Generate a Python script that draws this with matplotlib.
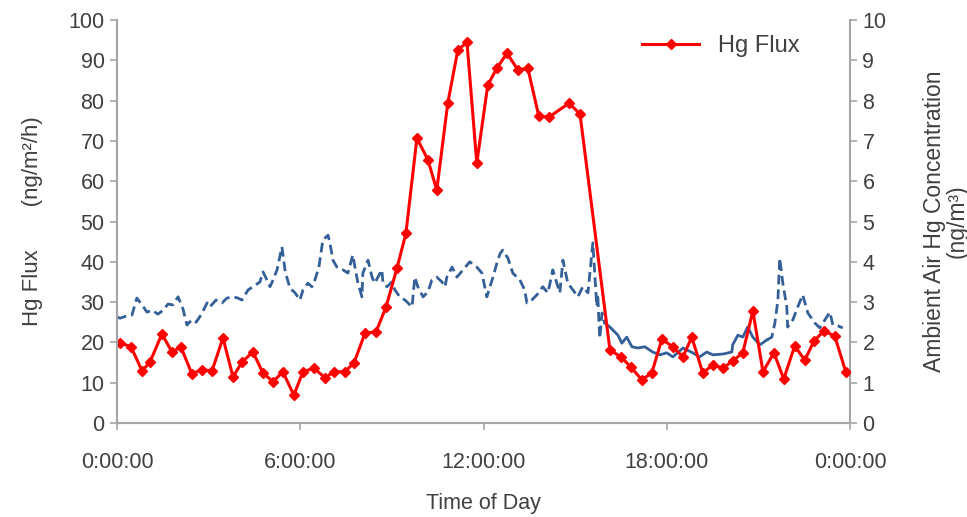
import matplotlib

matplotlib.use("Agg")
import matplotlib.pyplot as plt
from matplotlib.lines import Line2D

plt.rcParams.update({
    "font.family": ["Liberation Sans", "DejaVu Sans"],
    "font.size": 15.5,
    "text.color": "#404040",
    "axes.labelcolor": "#404040",
    "xtick.color": "#404040",
    "ytick.color": "#404040",
})

RED, BLUE, GREY = "#ff0000", "#345f97", "#a6a6a6"

# Hg flux (ng/m2/h), time in hours of day
flux_hours = [0.10, 0.46, 0.82, 1.08, 1.47, 1.80, 2.09, 2.45, 2.78, 3.11, 3.47, 3.80,
              4.09, 4.45, 4.78, 5.11, 5.43, 5.79, 6.09, 6.45, 6.81, 7.10, 7.46, 7.76,
              8.12, 8.48, 8.81, 9.17, 9.46, 9.82, 10.18, 10.47, 10.83, 11.16, 11.46, 11.78,
              12.14, 12.44, 12.77, 13.13, 13.45, 13.81, 14.14, 14.80, 15.16, 16.14, 16.50,
              16.82, 17.18, 17.51, 17.84, 18.20, 18.53, 18.82, 19.18, 19.51, 19.84, 20.16,
              20.49, 20.82, 21.15, 21.51, 21.83, 22.19, 22.52, 22.82, 23.14, 23.50, 23.86]
flux = [19.9, 18.9, 12.9, 15.1, 22.1, 17.6, 18.9, 12.2, 13.2, 12.9, 21.1, 11.4,
        15.1, 17.6, 12.4, 10.2, 12.7, 6.9, 12.7, 13.6, 11.2, 12.7, 12.7, 14.9,
        22.3, 22.6, 28.8, 38.5, 47.1, 70.7, 65.3, 57.8, 79.4, 92.6, 94.5, 64.5,
        83.9, 88.1, 91.8, 87.6, 88.1, 76.2, 75.9, 79.4, 76.7, 18.1, 16.4,
        13.9, 10.7, 12.4, 20.8, 18.9, 16.4, 21.3, 12.4, 14.4, 13.6, 15.4,
        17.4, 27.8, 12.7, 17.4, 10.9, 19.1, 15.6, 20.3, 22.8, 21.6, 12.7]

# ambient air Hg concentration (ng/m3)
amb_hours = [0.00, 0.10, 0.33, 0.49, 0.65, 0.82, 0.98, 1.15, 1.34, 1.51, 1.67, 1.83,
             2.00, 2.16, 2.29, 2.45, 2.59, 2.75, 2.95, 3.04, 3.24, 3.44, 3.60, 3.80,
             3.96, 4.09, 4.29, 4.45, 4.68, 4.78, 4.91, 5.01, 5.11, 5.24, 5.40, 5.50,
             5.56, 5.66, 5.83, 5.99, 6.09, 6.25, 6.38, 6.48, 6.61, 6.74, 6.91, 6.97,
             7.07, 7.20, 7.40, 7.56, 7.72, 7.79, 7.89, 8.02, 8.05, 8.22, 8.35, 8.44,
             8.67, 8.71, 8.84, 9.00, 9.10, 9.26, 9.43, 9.66, 9.75, 9.85, 10.02, 10.18,
             10.31, 10.47, 10.64, 10.74, 10.80, 10.97, 11.13, 11.33, 11.55, 11.78, 11.95,
             12.04, 12.11, 12.31, 12.44, 12.54, 12.63, 12.80, 12.96, 13.19, 13.35, 13.42,
             13.58, 13.75, 13.94, 14.11, 14.27, 14.40, 14.50, 14.60, 14.76, 14.93, 15.09,
             15.25, 15.42, 15.58, 15.65, 15.71, 15.74, 15.78, 15.81, 15.88, 15.97]
amb = [2.63, 2.60, 2.66, 2.68, 3.10, 2.93, 2.75, 2.80, 2.70, 2.80, 2.95, 2.93,
       3.13, 2.83, 2.43, 2.56, 2.50, 2.68, 2.98, 2.88, 3.05, 2.98, 3.10, 3.13,
       3.10, 3.05, 3.30, 3.38, 3.50, 3.75, 3.55, 3.38, 3.55, 3.80, 4.37, 3.80,
       3.62, 3.35, 3.23, 3.05, 3.30, 3.47, 3.38, 3.55, 3.87, 4.54, 4.66, 4.47,
       4.04, 3.87, 3.80, 3.72, 4.17, 3.87, 3.47, 3.13, 3.72, 4.04, 3.62, 3.47,
       3.80, 3.47, 3.38, 3.50, 3.30, 3.13, 3.05, 2.88, 3.62, 3.38, 3.13, 3.25,
       3.55, 3.62, 3.50, 3.38, 3.62, 3.87, 3.62, 3.80, 4.00, 3.87, 3.72,
       3.38, 3.13, 3.62, 3.97, 4.20, 4.29, 4.09, 3.72, 3.55, 3.30, 2.98,
       3.05, 3.18, 3.38, 3.23, 3.80, 3.47, 3.23, 4.04, 3.47, 3.30, 3.13,
       3.38, 3.23, 4.47, 3.60, 2.90, 3.20, 2.50, 2.10, 2.73, 2.48]

# afternoon/evening stretch, drawn solid in the original
amb2_hours = [15.97, 16.14, 16.40, 16.53, 16.69, 16.86, 17.05, 17.28, 17.54, 17.77,
              18.00, 18.20, 18.53, 18.85, 19.08, 19.31, 19.51, 19.84, 20.13, 20.16,
              20.33, 20.49, 20.65, 20.82, 21.05, 21.28]
amb2 = [2.48, 2.38, 2.18, 1.98, 2.13, 1.89, 1.86, 1.89, 1.76, 1.69,
        1.74, 1.64, 1.86, 1.74, 1.64, 1.76, 1.69, 1.71, 1.76, 1.94,
        2.18, 2.13, 2.38, 2.13, 1.94, 2.06]

amb3_hours = [21.28, 21.44, 21.54, 21.64, 21.70, 21.80, 21.93, 21.96, 22.13, 22.29,
              22.45, 22.62, 22.85, 23.01, 23.24, 23.34, 23.44, 23.60, 23.76]
amb3 = [2.06, 2.13, 2.48, 3.05, 4.09, 3.47, 2.88, 2.38, 2.56, 2.88,
        3.18, 2.73, 2.48, 2.36, 2.63, 2.75, 2.43, 2.41, 2.36]

x_ticks = [0, 6, 12, 18, 24]
x_ticklabels = ["0:00:00", "6:00:00", "12:00:00", "18:00:00", "0:00:00"]


def main():
    fig = plt.figure(figsize=(9.67, 5.17), dpi=100)
    ax = fig.add_axes([0.121, 0.182, 0.758, 0.779])
    ax2 = ax.twinx()

    dash = (0, (3.5, 1.8))
    ax2.plot(amb_hours, amb, color=BLUE, lw=2, linestyle=dash)
    ax2.plot(amb2_hours, amb2, color=BLUE, lw=2)
    ax2.plot(amb3_hours, amb3, color=BLUE, lw=2, linestyle=dash)

    ax.set_zorder(ax2.get_zorder() + 1)
    ax.patch.set_visible(False)
    ax.plot(flux_hours, flux, color=RED, lw=2.2, marker="D", ms=5.5,
            label="Hg Flux")

    ax.set_xlim(0, 24)
    ax.set_ylim(0, 100)
    ax2.set_ylim(0, 10)
    ax.set_xticks(x_ticks)
    ax.set_xticklabels(x_ticklabels)
    ax.set_yticks(range(0, 101, 10))
    ax2.set_yticks(range(0, 11))

    for a in (ax, ax2):
        for s in a.spines.values():
            s.set_color(GREY)
            s.set_linewidth(1.5)
        a.spines["top"].set_visible(False)
        a.tick_params(length=5, width=1.2, color=GREY, pad=4)
    ax.spines["right"].set_visible(False)
    ax.tick_params(axis="x", pad=16)

    ax.set_xlabel("Time of Day", labelpad=14)
    ax.set_ylabel("Hg Flux       (ng/m\u00b2/h)", labelpad=18, fontsize=16)
    ax2.set_ylabel("Ambient Air Hg Concentration\n(ng/m\u00b3)", labelpad=26,
                   linespacing=1.0, fontsize=16.5)

    handle = Line2D([], [], color=RED, lw=2.2, marker="D", ms=5.5)
    ax.legend([handle], ["Hg Flux"], loc="upper right", frameon=False,
              bbox_to_anchor=(0.96, 1.015), handlelength=2.4, fontsize=17)

    fig.savefig("out.png", dpi=100)
    plt.close(fig)


if __name__ == "__main__":
    main()
